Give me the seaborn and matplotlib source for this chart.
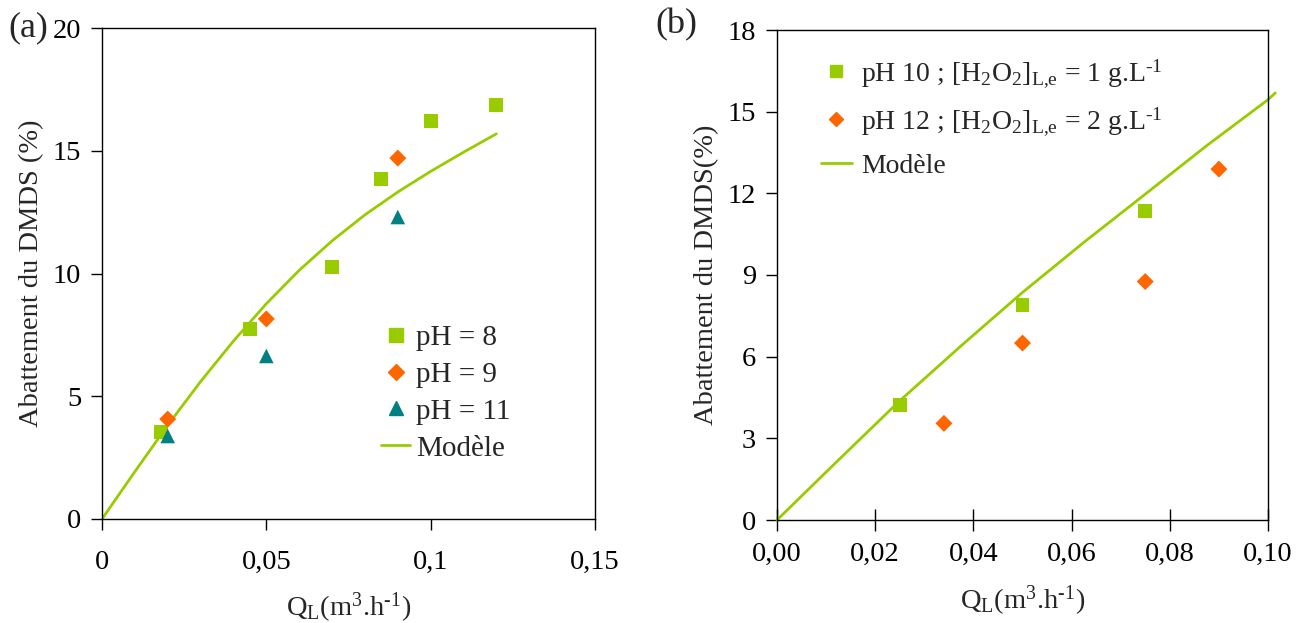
import matplotlib
matplotlib.use("Agg")
import matplotlib.pyplot as plt
import seaborn as sns
import pandas as pd
from matplotlib.lines import Line2D

sns.set_theme(style="white")
plt.rcParams['font.family'] = ['Liberation Serif', 'DejaVu Serif']
plt.rcParams['mathtext.fontset'] = 'custom'
plt.rcParams['mathtext.rm'] = 'Liberation Serif'
plt.rcParams['mathtext.it'] = 'Liberation Serif:italic'
plt.rcParams['mathtext.bf'] = 'Liberation Serif:bold'

GREEN = "#99CC00"
ORANGE = "#FF6600"
TEAL = "#008080"

# ---- Panel (a) data ----
a_ph8_x = [0.018, 0.045, 0.070, 0.085, 0.100, 0.120]
a_ph8_y = [3.54, 7.74, 10.27, 13.85, 16.2, 16.86]
a_ph9_x = [0.020, 0.050, 0.090]
a_ph9_y = [4.07, 8.15, 14.7]
a_ph11_x = [0.020, 0.050, 0.090]
a_ph11_y = [3.38, 6.64, 12.3]
a_model_x = [0, 0.01, 0.02, 0.03, 0.04, 0.05, 0.06, 0.07, 0.08, 0.09, 0.10, 0.11, 0.12]
a_model_y = [0, 1.93, 3.82, 5.60, 7.25, 8.77, 10.13, 11.33, 12.39, 13.32, 14.16, 14.94, 15.69]

# ---- Panel (b) data ----
b_ph10_x = [0.025, 0.050, 0.075]
b_ph10_y = [4.22, 7.89, 11.36]
b_ph12_x = [0.034, 0.050, 0.075, 0.090]
b_ph12_y = [3.55, 6.5, 8.76, 12.89]
b_model_x = [0, 0.0125, 0.025, 0.0375, 0.05, 0.0625, 0.075, 0.0875, 0.10, 0.1015]
b_model_y = [0, 2.2, 4.38, 6.4, 8.36, 10.2, 11.97, 13.75, 15.44, 15.69]

a_xticks = [0, 0.05, 0.10, 0.15]
a_xticklabels = ["0", "0,05", "0,1", "0,15"]
a_yticks = [0, 5, 10, 15, 20]
b_xticks = [0, 0.02, 0.04, 0.06, 0.08, 0.10]
b_xticklabels = ["0,00", "0,02", "0,04", "0,06", "0,08", "0,10"]
b_yticks = [0, 3, 6, 9, 12, 15, 18]

xlabel = r"Q$_\mathrm{L}$(m$^3$.h$^{\text{-1}}$)"

fig = plt.figure(figsize=(13.04, 6.23), dpi=100)
ax1 = fig.add_axes([102/1304, 1-519/623, 493/1304, 491/623])
ax2 = fig.add_axes([777/1304, 1-520/623, 491/1304, 490/623])

FS = 20.5

def style(ax):
    for s in ax.spines.values():
        s.set_color("black")
        s.set_linewidth(1.0)
    ax.grid(False)
    ax.set_facecolor("white")

# Panel a
sns.lineplot(x=a_model_x, y=a_model_y, ax=ax1, color=GREEN, lw=2, legend=False, zorder=2)
sns.scatterplot(x=a_ph8_x, y=a_ph8_y, ax=ax1, marker="s", color=GREEN, s=100, edgecolor="none", zorder=3, legend=False)
sns.scatterplot(x=a_ph9_x, y=a_ph9_y, ax=ax1, marker="D", color=ORANGE, s=75, edgecolor="none", zorder=3, legend=False)
sns.scatterplot(x=a_ph11_x, y=a_ph11_y, ax=ax1, marker="^", color=TEAL, s=110, edgecolor="none", zorder=3, legend=False)
ax1.set_xlim(0, 0.15)
ax1.set_ylim(0, 20)
ax1.set_xticks(a_xticks)
ax1.set_xticklabels(a_xticklabels)
ax1.set_yticks(a_yticks)
ax1.tick_params(axis="both", direction="out", length=8, width=1, labelsize=FS, colors="black", pad=7,
                bottom=True, left=True)
ax1.tick_params(axis="x", pad=14)
ax1.set_ylabel("Abattement du DMDS (%)", fontsize=FS, labelpad=6)
ax1.set_xlabel(xlabel, fontsize=FS, labelpad=12)
style(ax1)
h1 = [Line2D([], [], ls="", marker="s", color=GREEN, ms=10),
      Line2D([], [], ls="", marker="D", color=ORANGE, ms=8),
      Line2D([], [], ls="", marker="^", color=TEAL, ms=10.5),
      Line2D([], [], color=GREEN, lw=2)]
ax1.legend(h1, ["pH = 8", "pH = 9", "pH = 11", "Modèle"], loc="lower left",
           bbox_to_anchor=(0.566, 0.117), frameon=False, fontsize=21,
           handlelength=1.0, handletextpad=0.2, labelspacing=0.36, borderaxespad=0, borderpad=0)
fig.text(8/1304, 1-28/623, "(a)", fontsize=26, va="center", ha="left")

# Panel b
sns.lineplot(x=b_model_x, y=b_model_y, ax=ax2, color=GREEN, lw=2, legend=False, zorder=2)
for ln in ax2.get_lines():
    ln.set_clip_on(False)
sns.scatterplot(x=b_ph10_x, y=b_ph10_y, ax=ax2, marker="s", color=GREEN, s=100, edgecolor="none", zorder=3, legend=False)
sns.scatterplot(x=b_ph12_x, y=b_ph12_y, ax=ax2, marker="D", color=ORANGE, s=75, edgecolor="none", zorder=3, legend=False)
ax2.set_xlim(0, 0.10)
ax2.set_ylim(0, 18)
ax2.set_xticks(b_xticks)
ax2.set_xticklabels(b_xticklabels)
ax2.set_yticks(b_yticks)
ax2.tick_params(axis="y", direction="out", length=8, width=1, labelsize=FS, colors="black", pad=7, left=True)
ax2.tick_params(axis="x", direction="inout", length=16, width=1, labelsize=FS, colors="black", pad=8, bottom=True)
ax2.set_ylabel("Abattement du DMDS(%)", fontsize=FS, labelpad=6)
ax2.set_xlabel(xlabel, fontsize=FS, labelpad=12)
style(ax2)
h2 = [Line2D([], [], ls="", marker="s", color=GREEN, ms=9),
      Line2D([], [], ls="", marker="D", color=ORANGE, ms=7),
      Line2D([], [], color=GREEN, lw=2)]
ax2.legend(h2, [r"pH 10 ; [H$_2$O$_2$]$_\mathrm{L{,}e}$ = 1 g.L$^{\text{-1}}$",
                r"pH 12 ; [H$_2$O$_2$]$_\mathrm{L{,}e}$ = 2 g.L$^{\text{-1}}$",
                "Modèle"],
           loc="upper left", bbox_to_anchor=(0.09, 0.945), frameon=False, fontsize=20,
           handlelength=1.1, handletextpad=0.35, labelspacing=0.56, borderaxespad=0, borderpad=0)
fig.text(655/1304, 1-25/623, "(b)", fontsize=26, va="center", ha="left")

fig.savefig("out.png", dpi=100, facecolor="white")
